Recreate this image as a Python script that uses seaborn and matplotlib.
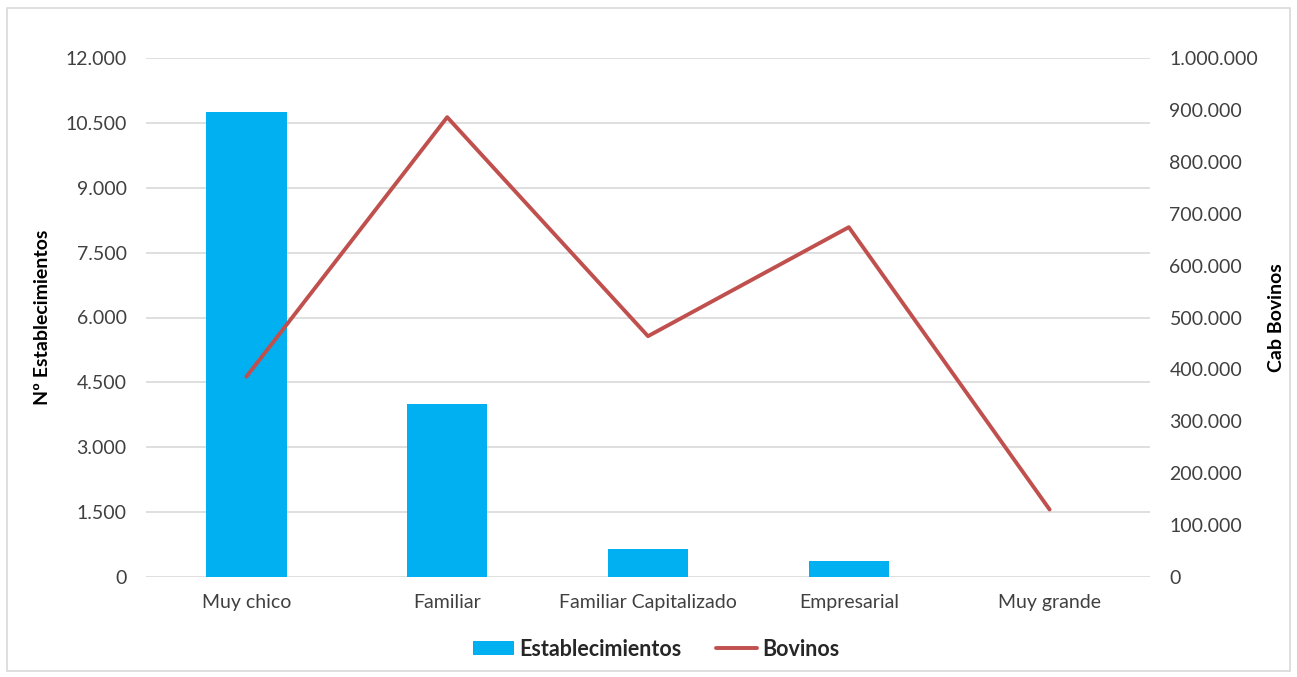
import matplotlib
matplotlib.use("Agg")
import matplotlib.pyplot as plt
import seaborn as sns
import pandas as pd
from matplotlib.ticker import FuncFormatter, MultipleLocator
from matplotlib.patches import Rectangle, Patch
from matplotlib.lines import Line2D

categories = ["Muy chico", "Familiar", "Familiar Capitalizado", "Empresarial", "Muy grande"]
establecimientos = [10750, 3990, 645, 360, 0]
bovinos = [386000, 886000, 464000, 674000, 130000]

sns.set_theme(style="white")
plt.rcParams['font.family'] = ['Lato', 'DejaVu Sans']

df = pd.DataFrame({"cat": categories, "est": establecimientos, "bov": bovinos})

fig = plt.figure(figsize=(12.97, 6.77), dpi=100)
ax = fig.add_axes([146/1297, 1 - 577/677, (1150-146)/1297, (577-58)/677])

bar_color = "#00B0F0"
line_color = "#C0504D"
sns.barplot(data=df, x="cat", y="est", color=bar_color, width=0.4, ax=ax,
            saturation=1, zorder=2, linewidth=0, edgecolor="none")
ax.set_xlim(-0.5, 4.5)
ax.set_ylim(0, 12000)
ax.yaxis.set_major_locator(MultipleLocator(1500))
fmt = lambda v, p: f"{int(round(v)):,}".replace(",", ".")
ax.yaxis.set_major_formatter(FuncFormatter(fmt))
ax.grid(axis="y", color="#d9d9d9", linewidth=1.2, zorder=0)
ax.set_axisbelow(True)
for s in ax.spines.values():
    s.set_visible(False)
ax.tick_params(axis="both", length=0, labelsize=14, colors="#404040")
ax.tick_params(axis="y", pad=14)
ax.tick_params(axis="x", pad=12)
ax.set_xlabel("")
ax.set_ylabel("Nº Establecimientos", fontsize=14, fontweight="bold", color="black", labelpad=10)

ax2 = ax.twinx()
sns.lineplot(data=df, x="cat", y="bov", color=line_color, linewidth=2.8, ax=ax2, sort=False)
ax2.set_ylim(0, 1000000)
ax2.yaxis.set_major_locator(MultipleLocator(100000))
ax2.yaxis.set_major_formatter(FuncFormatter(fmt))
for s in ax2.spines.values():
    s.set_visible(False)
ax2.tick_params(axis="y", length=0, labelsize=14, colors="#404040", pad=14)
ax2.set_ylabel("Cab Bovinos", fontsize=14, fontweight="bold", color="black", labelpad=7, rotation=90)
ax2.set_xlim(-0.5, 4.5)
ax2.grid(False)

handles = [Patch(facecolor=bar_color, edgecolor="none"),
           Line2D([0], [0], color=line_color, linewidth=2.8)]
leg = fig.legend(handles, ["Establecimientos", "Bovinos"], loc="center",
                 bbox_to_anchor=(656/1297, 1 - 649/677), ncol=2, frameon=False,
                 prop={"weight": "bold", "size": 15.5}, handlelength=1.9,
                 handleheight=0.6, columnspacing=1.6, handletextpad=0.25)

fig.patches.append(Rectangle((7/1297, 1 - 671/677), (1290-7)/1297, (671-8)/677,
                             transform=fig.transFigure, fill=False,
                             edgecolor="#d9d9d9", linewidth=1.2))

fig.savefig("out.png", dpi=100)
